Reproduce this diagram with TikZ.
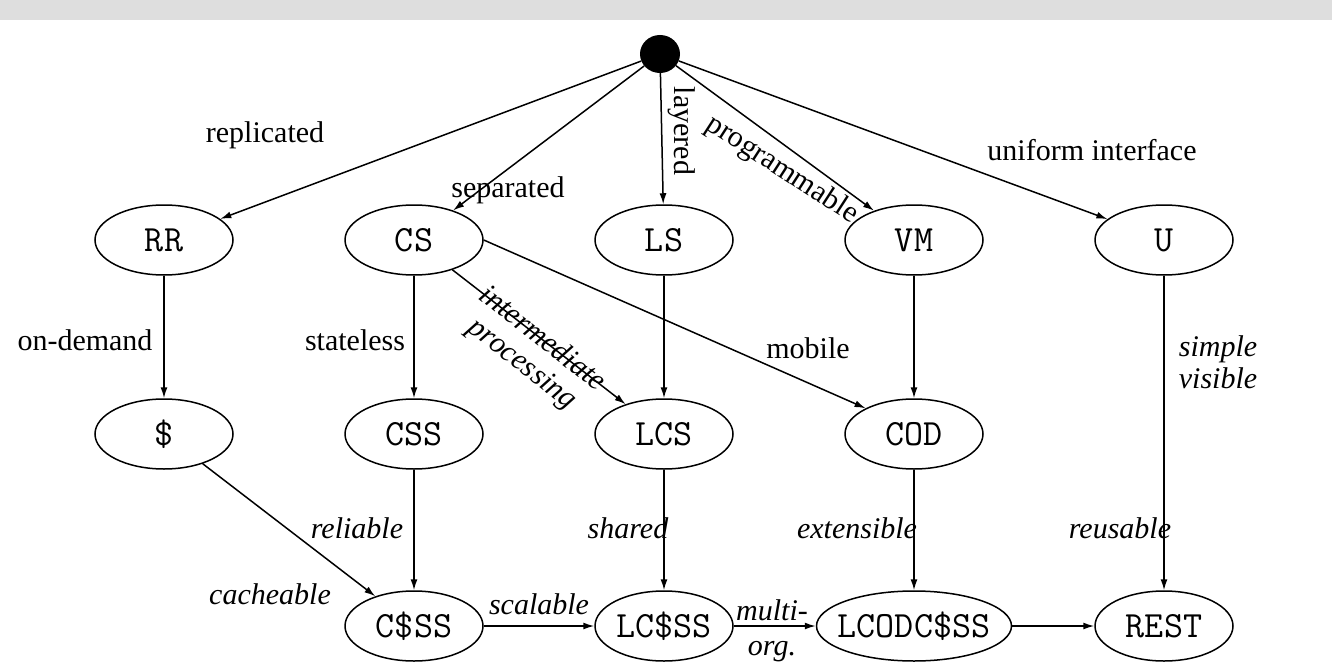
\documentclass[tikz,border=0pt]{standalone}
\usepackage{fontspec}
\setmainfont{Liberation Serif}
\usetikzlibrary{shapes.geometric,arrows.meta}
\definecolor{band}{RGB}{222,222,222}
\begin{document}
\begin{tikzpicture}[x=1pt,y=-1pt,
  st/.style={draw,ellipse,line width=1.5pt,minimum width=138pt,minimum height=70pt,inner sep=0pt,font=\fontsize{37}{37}\selectfont\ttfamily},
  arr/.style={line width=1.5pt,-{Latex[length=11pt,width=7pt]}},
  lab/.style={font=\fontsize{30}{32}\selectfont, inner sep=0pt},
  ilab/.style={inner sep=0pt,font=\fontsize{30}{32}\selectfont\itshape}]
\useasboundingbox (0,0) rectangle (1332,671);
\fill[band] (0,0) rectangle (1332,20);
% nodes
\node[ellipse,fill=black,minimum width=40pt,minimum height=38pt,inner sep=0pt] (top) at (660,54) {};
\node[st] (RR) at (164,240) {RR};
\node[st] (CS) at (414,240) {CS};
\node[st] (LS) at (664,240) {LS};
\node[st] (VM) at (914,240) {VM};
\node[st] (U) at (1164,240) {U};
\node[st] (dol) at (164,434) {\$};
\node[st] (CSS) at (414,434) {CSS};
\node[st] (LCS) at (664,434) {LCS};
\node[st] (COD) at (914,434) {COD};
\node[st] (CdSS) at (414,626) {C\$SS};
\node[st] (LCdSS) at (664,626) {LC\$SS};
\node[st,minimum width=195pt,inner xsep=-10pt] (LCODCdSS) at (914,626) {LCODC\$SS};
\node[st] (REST) at (1164,626) {REST};
% labels
\node[lab] (lrep) at (265,135) {replicated};
\node[lab] (lsep) at (508,190) {separated};
\node[lab,rotate=-90] (llay) at (682,131) {layered};
\node[lab,rotate=-33] (lprog) at (782,170) {programmable};
\node[lab] (luni) at (1092,150) {uniform interface};
\node[lab] (lond) at (85,340) {on-demand};
\node[lab] (lsta) at (355,340) {stateless};
\node[ilab,rotate=-38,align=center] (lint) at (532,352) {intermediate\\processing};
\node[lab] (lmob) at (808,348) {mobile};
\node[ilab,align=center] (lsv) at (1218,362) {simple\\visible};
\node[ilab] (lcac) at (270,594) {cacheable};
\node[ilab] (lrel) at (357,528) {reliable};
\node[ilab] (lsha) at (628,528) {shared};
\node[ilab] (lext) at (857,528) {extensible};
\node[ilab] (lreu) at (1120,528) {reusable};
\node[ilab] (lsca) at (539,604) {scalable};
\node[ilab] (lmul) at (772,610) {multi-};
\node[ilab] (lorg) at (772,652) {org.};
% edges
\draw[arr] (top) -- (RR);
\draw[arr] (top) -- (CS);
\draw[arr] (top) -- (LS);
\draw[arr] (top) -- (VM);
\draw[arr] (top) -- (U);
\draw[arr] (RR) -- (dol);
\draw[arr] (CS) -- (CSS);
\draw[arr] (CS) -- (LCS);
\draw[arr] (CS.east) -- (COD.152);
\draw[arr] (LS) -- (LCS);
\draw[arr] (VM) -- (COD);
\draw[arr] (U) -- (REST);
\draw[arr] (dol) -- (CdSS);
\draw[arr] (CSS) -- (CdSS);
\draw[arr] (LCS) -- (LCdSS);
\draw[arr] (COD) -- (LCODCdSS);
\draw[arr] (CdSS) -- (LCdSS);
\draw[arr] (LCdSS) -- (LCODCdSS);
\draw[arr] (LCODCdSS) -- (REST);
\end{tikzpicture}
\end{document}
